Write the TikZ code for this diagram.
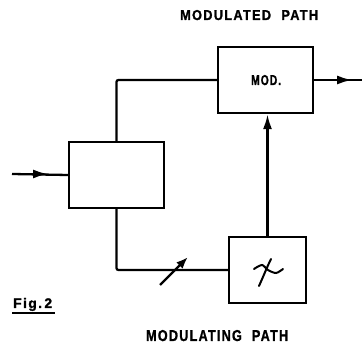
\documentclass[tikz,border=0pt]{standalone}
\usepackage{graphicx}
\usepackage{fontspec}
\newfontfamily\lblfont[LetterSpace=10,FakeBold=1.5]{Liberation Sans}
\usetikzlibrary{arrows.meta}
\begin{document}
\begin{tikzpicture}[x=1pt,y=1pt,
  line width=2.3pt,
  blk/.style={draw,line width=2.3pt,inner sep=0pt,minimum width=#1},
  lbl/.style={font=\lblfont\bfseries\fontsize{14}{16}\selectfont,inner sep=0pt,anchor=base west},
  arr/.style={-{Latex[length=15pt,width=9pt]}}]
\useasboundingbox (0,0) rectangle (362,-344);
\node[blk=95pt,minimum height=66pt] (L) at (116.5,-175) {};
\node[blk=95pt,minimum height=66pt] (M) at (265.5,-80) {};
\node[blk=77pt,minimum height=66pt] (X) at (267.5,-270) {};
\node[lbl] (mtxt) at (250,-85) {\resizebox{30pt}{10pt}{MOD.}};
\node[lbl] (top) at (179,-20) {\resizebox{138pt}{10pt}{MODULATED\hspace{6pt} PATH}};
\node[lbl] (bot) at (145,-341) {\resizebox{142pt}{11pt}{MODULATING\hspace{6pt} PATH}};
\node[lbl] (fig) at (12,-308) {\resizebox{39pt}{!}{Fig.\,2}};
\coordinate (u1) at (12,-313);
\coordinate (u2) at (55,-313);
\draw[line width=1.3pt] (u1) -- (u2);
% input
\coordinate (in) at (12,-174);
\draw (in) -- (L.west);
\draw[arr] (in) -- ++(36,0) coordinate (inhead);
% output
\coordinate (out) at (362,-80);
\draw (M.east) -- (out);
\draw[arr] (M.east) -- ++(38,0) coordinate (outhead);
% paths
\draw[rounded corners=2pt] (L.north) |- (M.west);
\draw[rounded corners=2pt] (L.south) |- (X.west);
\draw[arr] (X.north) -- (X.north |- M.south);
% variable arrow
\coordinate (va) at (160,-285);
\coordinate (vb) at (188,-257);
\draw[-{Latex[length=12pt,width=9pt]}] (va) -- (vb);
% chi symbol
\draw[line width=2pt,line cap=round] plot[smooth] coordinates {(254,-269) (262,-265) (268,-270) (276,-273) (283,-269)};
\draw[line width=2pt,line cap=round] (259,-286) .. controls (264,-275) and (267,-267) .. (271,-259);
\end{tikzpicture}
\end{document}
